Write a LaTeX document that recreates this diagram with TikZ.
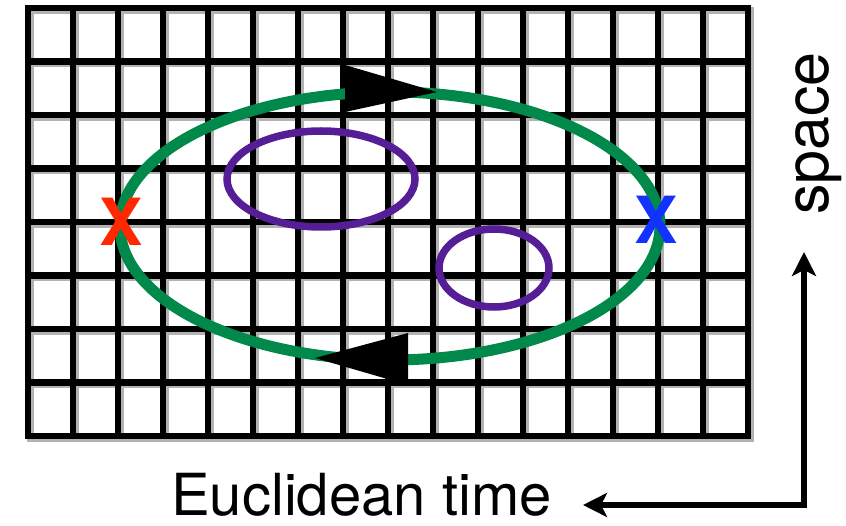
\documentclass[tikz,border=0pt]{standalone}
\usepackage{fontspec}
\setmainfont{TeX Gyre Heros}
\usetikzlibrary{arrows.meta, positioning, calc}
\definecolor{pathgreen}{RGB}{0,137,75}
\definecolor{loopviolet}{RGB}{85,30,150}
\definecolor{srcred}{RGB}{255,40,0}
\definecolor{sinkblue}{RGB}{20,50,255}
\tikzset{
  gridline/.style={line width=6.5pt, line cap=rect},
  gridshadow/.style={gridline, black!30},
  worldline/.style={line width=11pt, pathgreen},
  vacloop/.style={line width=7.5pt, loopviolet},
  dirhead/.style={fill=black, draw=none},
  endpoint/.style={inner sep=0pt, font=\fontsize{65}{65}\selectfont\bfseries},
  axislabel/.style={inner sep=0pt, font=\fontsize{58}{60}\selectfont},
  axisarr/.style={{Stealth[length=24pt, width=24pt, inset=6pt]}-{Stealth[length=24pt, width=24pt, inset=6pt]}, line width=6pt},
}

\begin{document}
\begin{tikzpicture}[x=1pt, y=-1pt]
  \useasboundingbox (0,0) rectangle (846,526);
  % lattice
  \begin{scope}[shift={(2.5,2.5)}]
    \foreach \i in {1,...,15} \draw[gridshadow] (28+45*\i,8) -- (28+45*\i,436);
    \foreach \j in {1,...,7} \draw[gridshadow] (28,8+53.5*\j) -- (748,8+53.5*\j);
    \draw[gridshadow] (28,8) rectangle (748,436);
  \end{scope}
  \foreach \i in {1,...,15} \draw[gridline] (28+45*\i,8) -- (28+45*\i,436);
  \foreach \j in {1,...,7} \draw[gridline] (28,8+53.5*\j) -- (748,8+53.5*\j);
  \draw[gridline] (28,8) rectangle (748,436);

  % closed loops
  \draw[vacloop] (321,179) ellipse [x radius=94, y radius=48];
  \draw[vacloop] (494,268) ellipse [x radius=55, y radius=39];
  \draw[worldline] (390,226) ellipse [x radius=270, y radius=134];
  \fill[dirhead] (345,65) -- (437,92) -- (345,112) -- cycle;
  \fill[dirhead] (408,333) -- (315,358) -- (408,385) -- cycle;

  \node[endpoint, text=srcred] (src) at (121,222) {X};
  \node[endpoint, text=sinkblue] (sink) at (656,220) {X};

  % axes
  \node[axislabel, anchor=base west] (time) at (171,515) {Euclidean time};
  \node[axislabel, font=\fontsize{61}{62}\selectfont, rotate=90, anchor=base] (space) at (828,133.5) {space};
  \coordinate (uptip) at (804,252);
  \coordinate (lefttip) at (583,505);
  \draw[axisarr] (uptip) |- (lefttip);
\end{tikzpicture}
\end{document}
